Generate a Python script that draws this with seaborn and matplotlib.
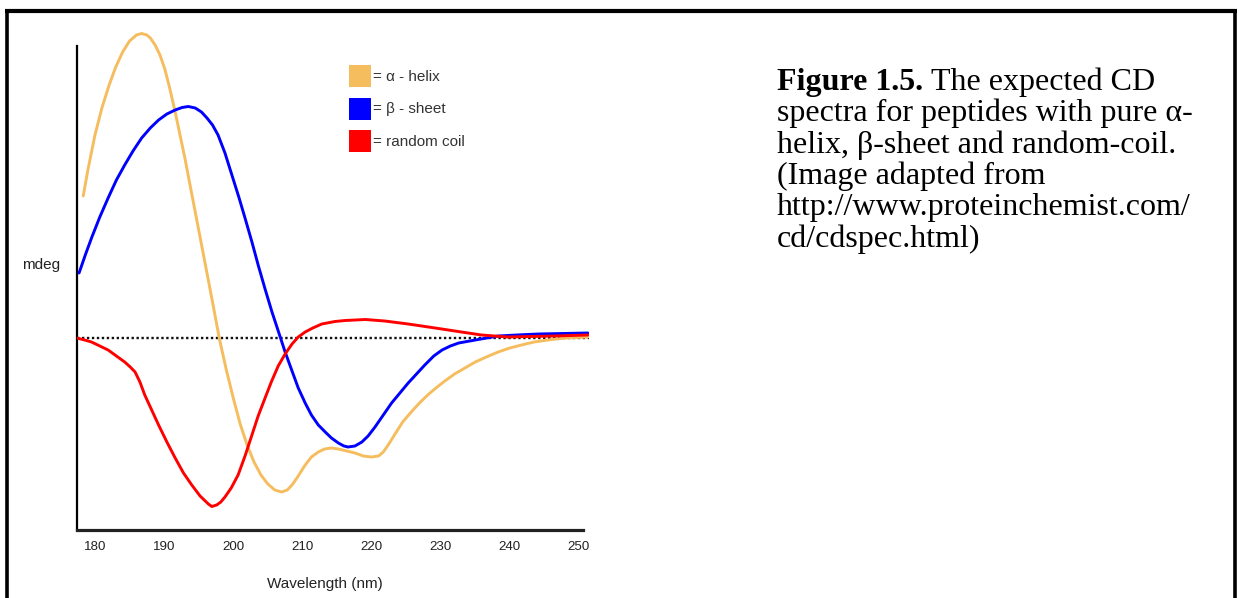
import numpy as np
import pandas as pd
import matplotlib
matplotlib.use("Agg")
import matplotlib.pyplot as plt
import seaborn as sns
from matplotlib.patches import Patch
from matplotlib.lines import Line2D

# ---------------- data (arbitrary mdeg units) ----------------
helix_nm = [178.3, 179.0, 180.0, 181.0, 182.0, 183.0, 184.0, 185.0, 186.0, 186.75, 187.5,
            188.0, 188.7, 189.4, 190.1, 190.8, 191.6, 192.3, 193.0, 194.0, 195.0, 196.0,
            197.0, 198.0, 199.0, 200.0, 201.0, 202.0, 203.0, 204.0, 205.0, 206.0, 207.0,
            207.8, 208.5, 209.3, 210.4, 211.3, 212.3, 213.2, 214.2, 215.2, 216.4, 217.6,
            218.8, 220.0, 221.0, 221.7, 222.5, 223.4, 224.5, 225.8, 227.0, 228.2, 229.4,
            230.6, 232.0, 233.5, 235.0, 236.6, 238.3, 240.0, 241.7, 243.5, 245.5, 248.0,
            251.3]
helix_val = [14.2, 16.9, 20.3, 23.0, 25.2, 27.1, 28.6, 29.7, 30.3, 30.45, 30.3,
             30.0, 29.3, 28.3, 26.9, 25.0, 22.6, 20.3, 18.0, 14.4, 10.8, 7.2,
             3.6, -0.1, -3.2, -6.0, -8.6, -10.7, -12.4, -13.7, -14.6, -15.2, -15.4,
             -15.2, -14.7, -13.9, -12.7, -11.9, -11.4, -11.1, -11.0, -11.1, -11.3, -11.5,
             -11.8, -11.9, -11.8, -11.4, -10.6, -9.6, -8.4, -7.35, -6.45, -5.65, -4.95,
             -4.3, -3.6, -3.0, -2.4, -1.9, -1.4, -1.0, -0.7, -0.4, -0.2, 0.0,
             0.1]

sheet_nm = [177.7, 178.6, 179.5, 180.7, 181.9, 183.1, 184.3, 185.5, 186.75, 188.0, 189.2,
            190.4, 191.6, 192.6, 193.5, 194.5, 195.4, 196.2, 197.0, 197.8, 198.8, 199.8,
            200.8, 201.7, 202.7, 203.6, 204.6, 205.6, 206.6, 207.5, 208.5, 209.4, 210.4,
            211.3, 212.3, 213.3, 214.2, 215.2, 216.0, 216.6, 217.6, 218.6, 219.5, 220.5,
            221.7, 222.9, 224.1, 225.3, 226.5, 227.7, 229.0, 230.2, 231.4, 232.6, 235.0,
            238.3, 241.0, 244.1, 251.3]
sheet_val = [6.5, 8.3, 10.0, 12.1, 14.0, 15.8, 17.3, 18.7, 20.0, 21.0, 21.8,
             22.4, 22.8, 23.05, 23.15, 23.0, 22.6, 22.0, 21.3, 20.3, 18.5, 16.3,
             14.1, 12.0, 9.6, 7.3, 4.9, 2.6, 0.5, -1.4, -3.3, -5.0, -6.5,
             -7.7, -8.7, -9.4, -10.0, -10.5, -10.8, -10.9, -10.8, -10.4, -9.8, -8.9,
             -7.7, -6.5, -5.5, -4.5, -3.6, -2.7, -1.8, -1.2, -0.8, -0.5, -0.2,
             0.2, 0.3, 0.4, 0.5]

coil_nm = [177.35, 178.5, 179.5, 180.7, 181.9, 183.1, 184.3, 185.1, 185.8, 186.5, 187.2,
           188.2, 189.2, 190.4, 191.6, 192.8, 194.0, 195.2, 196.4, 196.9, 197.6, 198.2,
           198.8, 199.7, 200.7, 201.7, 202.7, 203.6, 204.6, 205.5, 206.5, 207.5, 208.5,
           209.4, 210.4, 211.5, 212.8, 214.7, 216.2, 219.1, 221.9, 225.3, 229.2, 233.0,
           235.9, 239.7, 243.0, 246.5, 251.3]
coil_val = [0.0, -0.2, -0.4, -0.8, -1.2, -1.8, -2.4, -2.9, -3.4, -4.4, -5.7,
            -7.2, -8.7, -10.4, -12.0, -13.5, -14.7, -15.8, -16.6, -16.85, -16.7, -16.4,
            -15.9, -15.0, -13.7, -11.8, -9.7, -7.8, -6.0, -4.4, -2.8, -1.6, -0.6,
            0.1, 0.6, 1.0, 1.4, 1.65, 1.75, 1.85, 1.7, 1.4, 1.0, 0.6,
            0.3, 0.1, 0.15, 0.2, 0.3]

series_names = ["α - helix", "β - sheet", "random coil"]
legend_labels = ["= α - helix", "= β - sheet", "= random coil"]
x_ticks = [180, 190, 200, 210, 220, 230, 240, 250]
colors = {"α - helix": "#F5BD5E", "β - sheet": "#0000FF", "random coil": "#FF0000"}

caption_lines = ["spectra for peptides with pure α-",
                 "helix, β-sheet and random-coil.",
                 "(Image adapted from",
                 "http://www.proteinchemist.com/",
                 "cd/cdspec.html)"]

# ---------------- figure ----------------
sns.set_theme(style="white")
plt.rcParams["font.family"] = ["Liberation Sans", "DejaVu Sans"]

W, H = 1239, 598
fig = plt.figure(figsize=(W / 100, H / 100), dpi=100)
fig.patch.set_facecolor("white")

def fx(px):
    return px / W

def fy(py):
    return 1 - py / H

# axes geometry (pixels): y-axis at x=77, x-axis at y=530
xl, xr = 177.4, 251.5
yb, yt = -19.2, 30.8
left_px, right_px = 77, 95 + (xr - 180) * 6.914
ax = fig.add_axes([fx(left_px), fy(530), fx(right_px - left_px), (530 - 30) / H])
ax.set_facecolor("white")

frames = []
for name, xs, ys in [(series_names[0], helix_nm, helix_val),
                     (series_names[1], sheet_nm, sheet_val),
                     (series_names[2], coil_nm, coil_val)]:
    frames.append(pd.DataFrame({"wavelength": xs, "mdeg": ys, "structure": name}))
df = pd.concat(frames, ignore_index=True)

# dotted zero line (drawn under curves)
ax.axhline(0, color="#111111", lw=1.7, ls=(0, (1, 1.1)), zorder=1)

sns.lineplot(data=df, x="wavelength", y="mdeg", hue="structure", palette=colors,
             hue_order=series_names, estimator=None, sort=False, legend=False,
             lw=2.1, ax=ax, zorder=3)
for ln in ax.get_lines():
    ln.set_solid_joinstyle("round")
    ln.set_solid_capstyle("round")

ax.set_xlim(xl, xr)
ax.set_ylim(yb, yt)

for s in ["top", "right"]:
    ax.spines[s].set_visible(False)
ax.spines["left"].set_color("#000000")
ax.spines["left"].set_linewidth(1.6)
ax.spines["left"].set_bounds(yb, 29.2)
ax.spines["bottom"].set_color("#222222")
ax.spines["bottom"].set_linewidth(2.3)
ax.spines["bottom"].set_bounds(xl, 250.6)

ax.set_xticks(x_ticks)
ax.set_xticklabels([str(t) for t in x_ticks])
ax.set_yticks([])
ax.tick_params(axis="x", length=0, pad=8, labelsize=9.6, labelcolor="#222222")
ax.grid(False)

ax.set_xlabel("Wavelength (nm)", fontsize=11, color="#222222")
ax.xaxis.set_label_coords((325 - left_px) / (right_px - left_px), (530 - 584) / 500)
ax.xaxis.label.set_va("center")
ax.set_ylabel("mdeg", fontsize=11, color="#222222", rotation=0)
ax.yaxis.set_label_coords((41 - left_px) / (right_px - left_px), (530 - 265) / 500)
ax.yaxis.label.set_va("center")
ax.yaxis.label.set_ha("center")

# legend with square swatches
handles = [Patch(facecolor=colors[n], edgecolor="none") for n in series_names]
leg = ax.legend(handles, legend_labels, loc="upper left",
                bbox_to_anchor=(fx(349), fy(65)), bbox_transform=fig.transFigure,
                frameon=False, fontsize=11, handlelength=1.44, handleheight=1.84,
                handletextpad=0.15, labelspacing=0.69, borderpad=0, borderaxespad=0)
for t in leg.get_texts():
    t.set_color("#333333")

# ---------------- caption on the right ----------------
serif = ["Liberation Serif", "DejaVu Serif"]
cap_size = 23
base_y = [90, 121.3, 152.6, 183.9, 215.2, 246.5]
bold = fig.text(fx(777), fy(base_y[0]), "Figure 1.5.", family=serif, weight="bold",
                fontsize=cap_size, va="baseline", ha="left", color="black")
fig.canvas.draw()
r = fig.canvas.get_renderer()
bb = bold.get_window_extent(renderer=r)
fig.text(bb.x1 / W + fx(8), fy(base_y[0]), "The expected CD", family=serif,
         fontsize=cap_size, va="baseline", ha="left", color="black")
for line, yy in zip(caption_lines, base_y[1:]):
    fig.text(fx(777), fy(yy), line, family=serif, fontsize=cap_size,
             va="baseline", ha="left", color="black")

# ---------------- page border (top, left, right) ----------------
fig.add_artist(Line2D([fx(5), fx(1237)], [fy(11), fy(11)], color="black", lw=3.0,
                      transform=fig.transFigure, solid_capstyle="butt"))
fig.add_artist(Line2D([fx(6.5), fx(6.5)], [fy(11), fy(600)], color="black", lw=2.6,
                      transform=fig.transFigure, solid_capstyle="butt"))
fig.add_artist(Line2D([fx(1234.5), fx(1234.5)], [fy(11), fy(600)], color="black", lw=2.6,
                      transform=fig.transFigure, solid_capstyle="butt"))

fig.savefig("out.png", dpi=100, facecolor="white")
